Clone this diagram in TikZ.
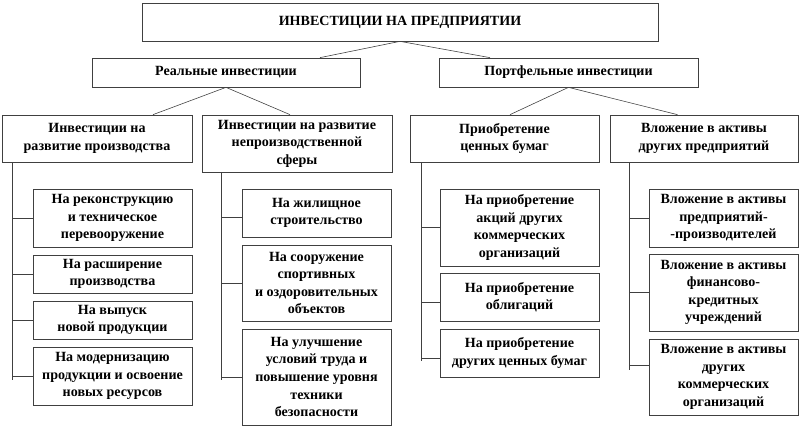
\documentclass[tikz,border=0pt]{standalone}
\usepackage{fontspec}
\setmainfont{Liberation Serif}
\begin{document}
\begin{tikzpicture}[x=0.03cm,y=-0.03cm,
    box/.style={draw=black!75, line width=0.6pt, align=center, inner sep=1pt,
        font=\bfseries\fontsize{12}{15}\selectfont},
    link/.style={draw=black!75, line width=0.5pt}]
    \useasboundingbox (0,0) rectangle (800,427);

    % Вершина
    \node[box, minimum width=15.48cm, minimum height=1.14cm] (top) at (400,22) {ИНВЕСТИЦИИ НА ПРЕДПРИЯТИИ};

    % Второй уровень
    \node[box, minimum width=8.04cm, minimum height=0.87cm] (real) at (226,72.5) {Реальные инвестиции};
    \node[box, minimum width=7.77cm, minimum height=0.87cm] (port) at (568.5,72.5) {Портфельные инвестиции};

    % Третий уровень
    \node[box, minimum width=5.7cm, minimum height=1.41cm] (A) at (97,138.5) {Инвестиции на\\развитие производства};
    \node[box, minimum width=5.7cm, minimum height=1.71cm] (B) at (297,143.5) {Инвестиции на развитие\\непроизводственной\\сферы};
    \node[box, minimum width=5.67cm, minimum height=1.41cm] (C) at (504.5,138.5) {Приобретение\\ценных бумаг};
    \node[box, minimum width=5.64cm, minimum height=1.41cm] (D) at (704,138.5) {Вложение в активы\\других предприятий};

    % Производство
    \node[box, minimum width=4.77cm, minimum height=1.74cm] (A1) at (112.5,218) {На реконструкцию\\и техническое\\перевооружение};
    \node[box, minimum width=4.77cm, minimum height=1.14cm] (A2) at (112.5,274) {На расширение\\производства};
    \node[box, minimum width=4.77cm, minimum height=1.14cm] (A3) at (112.5,320) {На выпуск\\новой продукции};
    \node[box, minimum width=4.77cm, minimum height=1.74cm] (A4) at (112.5,376) {На модернизацию\\продукции и освоение\\новых ресурсов};

    % Непроизводственная сфера
    \node[box, minimum width=4.47cm, minimum height=1.44cm] (B1) at (316.5,213) {На жилищное\\строительство};
    \node[box, minimum width=4.47cm, minimum height=2.28cm] (B2) at (316.5,283) {На сооружение\\спортивных\\и оздоровительных\\объектов};
    \node[box, minimum width=4.47cm, minimum height=2.88cm] (B3) at (316.5,377) {На улучшение\\условий труда и\\повышение уровня\\техники\\безопасности};

    % Ценные бумаги
    \node[box, minimum width=4.77cm, minimum height=2.31cm] (C1) at (519.5,227.5) {На приобретение\\акций других\\коммерческих\\организаций};
    \node[box, minimum width=4.77cm, minimum height=1.44cm] (C2) at (519.5,297) {На приобретение\\облигаций};
    \node[box, minimum width=4.77cm, minimum height=1.44cm] (C3) at (519.5,353) {На приобретение\\других ценных бумаг};

    % Активы других предприятий
    \node[box, minimum width=4.47cm, minimum height=1.74cm] (D1) at (723.5,218) {Вложение в активы\\предприятий-\\-производителей};
    \node[box, minimum width=4.47cm, minimum height=2.31cm] (D2) at (723.5,292.5) {Вложение в активы\\финансово-\\кредитных\\учреждений};
    \node[box, minimum width=4.47cm, minimum height=2.28cm] (D3) at (723.5,377) {Вложение в активы\\других\\коммерческих\\организаций};

    % Связи сверху вниз
    \draw[link] (top.south) -- ([xshift=2.82cm]real.north);
    \draw[link] (top.south) -- ([xshift=-2.355cm]port.north);
    \draw[link] (real.south) -- ([xshift=1.68cm]A.north);
    \draw[link] (real.south) -- ([xshift=-0.21cm]B.north);
    \draw[link] (port.south) -- ([xshift=0.165cm]C.north);
    \draw[link] (port.south) -- ([xshift=-0.795cm]D.north);

    % Вертикальные линии
    \coordinate (spA) at (12,380);
    \coordinate (spB) at (221,380);
    \coordinate (spC) at (421,361);
    \coordinate (spD) at (629,370);
    \draw[link] (spA |- A.south) -- (spA);
    \draw[link] (spB |- B.south) -- (spB);
    \draw[link] (spC |- C.south) -- (spC);
    \draw[link] (spD |- D.south) -- (spD);

    % Отводы к блокам
    \foreach \n/\s/\sp in {A1/0/spA, A2/0/spA, A3/0/spA, A4/0/spA,
                           B1/-0.12/spB, B2/0/spB, B3/0/spB,
                           C1/0/spC, C2/-0.15/spC, C3/-0.15/spC,
                           D1/0/spD, D2/0/spD, D3/0.36/spD}{
        \path ([yshift=\s cm]\n.west) coordinate (tmp);
        \draw[link] (tmp) -- (tmp -| \sp);
    }
\end{tikzpicture}
\end{document}
